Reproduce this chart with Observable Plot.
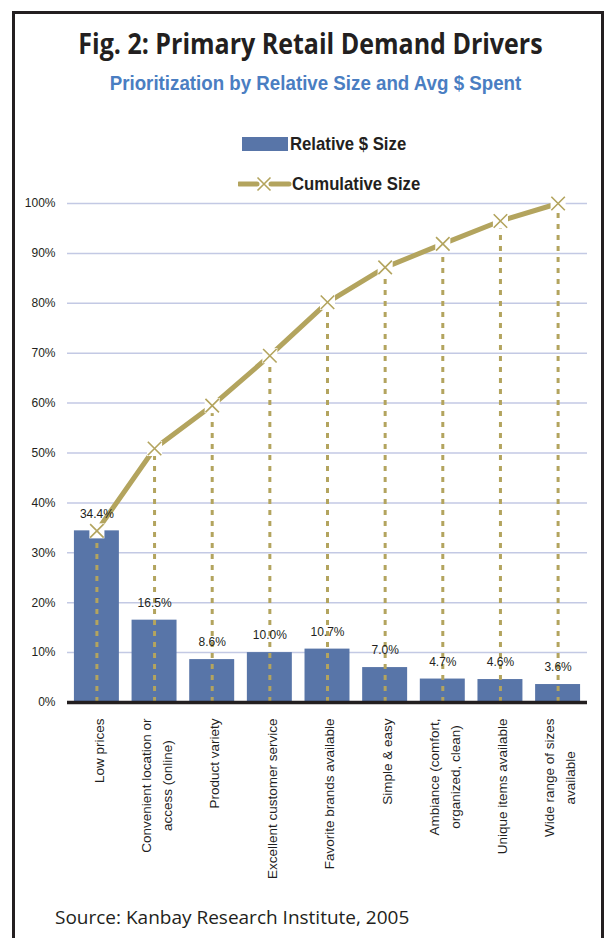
<!DOCTYPE html>
<html>
<head>
<meta charset="utf-8">
<script src="https://cdn.jsdelivr.net/npm/d3@7"></script>
<script src="https://cdn.jsdelivr.net/npm/@observablehq/plot@0.6"></script>
<style>
  html, body { margin: 0; padding: 0; background: #fff; }
  body { width: 608px; height: 938px; overflow: hidden; position: relative; }
  #frame { position: absolute; left: 12px; top: 11px; width: 586px; height: 960px; border: 3px solid #231f20; border-bottom: none; pointer-events: none; z-index: 5; }
  #title { position: absolute; left: 0; top: 26px; width: 621px; text-align: center; font-family: "Open Sans", sans-serif; font-weight: 700; font-size: 29px; line-height: 34px; color: #231f20; white-space: nowrap; transform: scaleX(0.862); transform-origin: 310.5px 0; }
  #subtitle { position: absolute; left: 0; top: 72px; width: 631px; text-align: center; font-family: "Liberation Sans", Arial, sans-serif; font-weight: 700; font-size: 20px; line-height: 22px; color: #4a7ec2; white-space: nowrap; transform: scaleX(0.936); transform-origin: 315.5px 0; }
  .leg { position: absolute; left: 238px; display: flex; align-items: center; font-family: "Liberation Sans", Arial, sans-serif; font-weight: 700; font-size: 19px; color: #231f20; white-space: nowrap; }
  .leg span { display: inline-block; transform: scaleX(0.88); transform-origin: 0 50%; }
  #leg1 { top: 133px; height: 22px; }
  #leg2 { top: 173px; height: 22px; }
  #chart { position: absolute; left: 0; top: 190px; }
  #source { position: absolute; left: 55px; top: 905px; font-family: "Open Sans", sans-serif; font-size: 19px; line-height: 24px; color: #231f20; white-space: nowrap; }
</style>
</head>
<body>
<div id="title">Fig. 2: Primary Retail Demand Drivers</div>
<div id="subtitle">Prioritization by Relative Size and Avg $ Spent</div>
<div class="leg" id="leg1"><svg width="52" height="22"><rect x="4" y="4" width="46" height="14" fill="#5875a8"></rect></svg><span id="leg1text"></span></div>
<div class="leg" id="leg2"><svg width="54" height="22"><line x1="1" y1="11" x2="19" y2="11" stroke="#b3a45e" stroke-width="5" stroke-linecap="round"></line><line x1="33" y1="11" x2="51" y2="11" stroke="#b3a45e" stroke-width="5" stroke-linecap="round"></line><path d="M19.5,4.5L32.5,17.5M19.5,17.5L32.5,4.5" stroke="#b3a45e" stroke-width="1.6" fill="none"></path></svg><span id="leg2text"></span></div>
<div id="chart"></div>
<div id="source">Source: Kanbay Research Institute, 2005</div>
<div id="frame"></div>
<script>
// ---- data ----
const categories = [
  "Low prices",
  "Convenient location or\naccess (online)",
  "Product variety",
  "Excellent customer service",
  "Favorite brands available",
  "Simple & easy",
  "Ambiance (comfort,\norganized, clean)",
  "Unique items available",
  "Wide range of sizes\navailable"
];
const relativeSize = [34.4, 16.5, 8.6, 10.0, 10.7, 7.0, 4.7, 4.6, 3.6];
const cumulativeSize = [34.4, 50.9, 59.5, 69.5, 80.2, 87.2, 91.9, 96.5, 100];
const yTicks = [0, 10, 20, 30, 40, 50, 60, 70, 80, 90, 100];
const seriesNames = ["Relative $ Size", "Cumulative Size"];

document.getElementById("leg1text").textContent = seriesNames[0];
document.getElementById("leg2text").textContent = seriesNames[1];

const rows = categories.map((c, i) => ({cat: c, rel: relativeSize[i], cum: cumulativeSize[i]}));

const BAR = "#5875a8";
const KHAKI = "#b3a45e";
const sans = '"Liberation Sans", Arial, sans-serif';
const xFont = 13.5;

// measure label widths to top-align rotated multi-line labels
const ctx = document.createElement("canvas").getContext("2d");
ctx.font = `${xFont}px "Liberation Sans"`;
const labelMarks = categories.map((c) => {
  const w = Math.max(...c.split("\n").map((s) => ctx.measureText(s).width));
  return Plot.text([c], {
    x: (d) => d, y: () => 0, text: (d) => d,
    rotate: -90, textAnchor: "middle", lineAnchor: "middle", lineHeight: 1.55,
    dy: 16 + w / 2, fontSize: xFont, fill: "#1f1f1f", fontFamily: sans
  });
});

const chart = Plot.plot({
  width: 608,
  height: 700,
  marginTop: 13,
  marginBottom: 188,
  marginLeft: 67,
  marginRight: 21,
  style: {background: "transparent", overflow: "visible"},
  x: {domain: categories, paddingInner: 0.22, paddingOuter: 0.12, round: false, axis: null},
  y: {domain: [0, 100], axis: null},
  marks: [
    Plot.ruleY(yTicks.filter((d) => d > 0), {stroke: "#c3c9e4", strokeWidth: 1.5}),
    Plot.axisY(yTicks, {
      tickSize: 0, tickPadding: 12, tickFormat: (d) => d + "%",
      fontSize: 12, fontFamily: sans, fill: "#231f20", label: null
    }),
    Plot.barY(rows, {x: "cat", y: "rel", fill: BAR}),
    Plot.ruleX(rows, {x: "cat", y1: 0, y2: "cum", stroke: KHAKI, strokeWidth: 3, strokeDasharray: "5,6"}),
    Plot.ruleY([0], {stroke: "#231f20", strokeWidth: 3.5}),
    Plot.line(rows, {x: "cat", y: "cum", stroke: KHAKI, strokeWidth: 5, strokeLinecap: "butt"}),
    Plot.dot(rows, {x: "cat", y: "cum", symbol: "square", r: 8.5, fill: "white", stroke: null}),
    Plot.dot(rows, {x: "cat", y: "cum", symbol: "times", r: 6.2, stroke: KHAKI, strokeWidth: 1.6}),
    Plot.text(rows, {
      x: "cat", y: "rel", text: (d) => d.rel.toFixed(1) + "%", dy: -17,
      fontSize: 12, fontFamily: sans, fill: "#231f20", lineAnchor: "middle"
    }),
    ...labelMarks
  ]
});
document.getElementById("chart").appendChild(chart);
</script>
</body>
</html>
